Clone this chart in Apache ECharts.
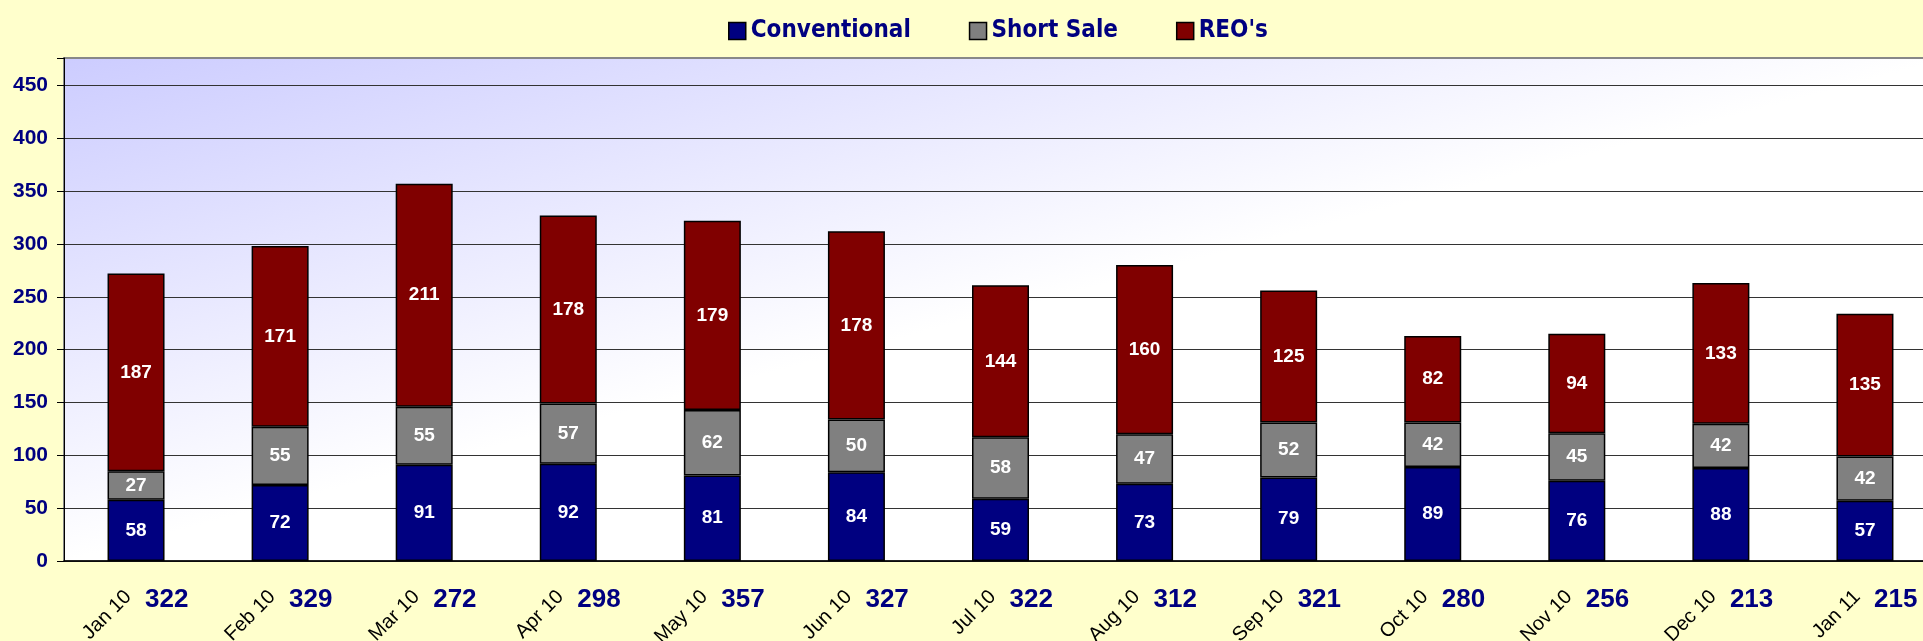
<!DOCTYPE html>
<html lang="en">
<head>
  <meta charset="UTF-8">
  <script src="https://cdn.jsdelivr.net/npm/echarts@6/dist/echarts.min.js"></script>
  <title>Sales by type</title>
</head>
<body>
  <div id="chart"></div>
</body>
<style>
  html,body{
    padding: 0;
    margin: 0;
    height: 100vh;
    width: 100vw;
    background: #FFFFCC;
  }
  #chart {
    height: 641px;
    width: 1923px;
  }
</style>
</html>
<script>
const months = ['Jan 10', 'Feb 10', 'Mar 10', 'Apr 10', 'May 10', 'Jun 10', 'Jul 10',
  'Aug 10', 'Sep 10', 'Oct 10', 'Nov 10', 'Dec 10', 'Jan 11']
const conventional = [58, 72, 91, 92, 81, 84, 59, 73, 79, 89, 76, 88, 57]
const shortSale = [27, 55, 55, 57, 62, 50, 58, 47, 52, 42, 45, 42, 42]
const reos = [187, 171, 211, 178, 179, 178, 144, 160, 125, 82, 94, 133, 135]
// numbers printed next to each month label
const totals = [322, 329, 272, 298, 357, 327, 322, 312, 321, 280, 256, 213, 215]

const navy = '#000080'
const font = '"Liberation Sans", Arial, sans-serif'

const barLabel = {
  show: true,
  color: '#fff',
  fontFamily: font,
  fontWeight: 'bold',
  fontSize: 19
}

const makeSeries = (name, data, color) => ({
  name: name,
  type: 'bar',
  stack: 'all',
  barWidth: 57,
  data: data,
  itemStyle: { color: color, borderColor: '#000', borderWidth: 1.5 },
  label: barLabel
})

let option = {
  backgroundColor: '#FFFFCC',
  animation: false,
  legend: {
    left: 723,
    top: 14,
    icon: 'rect',
    itemWidth: 17,
    itemHeight: 17,
    itemGap: 58,
    itemStyle: { borderColor: '#000', borderWidth: 1.5 },
    textStyle: {
      color: navy,
      fontFamily: '"DejaVu Sans Condensed", "DejaVu Sans", sans-serif',
      fontWeight: 'bold',
      fontSize: 24
    },
    data: [
      { name: 'Conventional', textStyle: { width: 164 } },
      { name: 'Short Sale', textStyle: { width: 117 } },
      { name: "REO's", textStyle: { width: 64 } }
    ]
  },
  grid: {
    left: 64,
    top: 58,
    right: -14,
    bottom: 80,
    outerBoundsMode: 'none',
    containLabel: false,
    show: true,
    borderColor: '#888',
    borderWidth: 2,
    backgroundColor: new echarts.graphic.LinearGradient(0, 0, 0.067, 0.933, [
      { offset: 0, color: '#CCCCFF' },
      { offset: 1, color: '#FFFFFF' }
    ])
  },
  xAxis: [
    {
      type: 'category',
      data: months,
      axisLine: { lineStyle: { color: '#000', width: 1.5 } },
      axisTick: { length: 6, lineStyle: { color: '#000' } },
      axisLabel: {
        interval: 0,
        rotate: 45,
        margin: 25,
        padding: [0, 11, 0, 0],
        color: '#000',
        fontFamily: font,
        fontSize: 20
      }
    },
    {
      type: 'category',
      data: months,
      position: 'bottom',
      axisLine: { show: false },
      axisTick: { show: false },
      axisLabel: {
        interval: 0,
        margin: 26,
        align: 'left',
        padding: [0, 0, 0, 9],
        color: navy,
        fontFamily: font,
        fontWeight: 'bold',
        fontSize: 26,
        formatter: (value, index) => String(totals[index])
      }
    }
  ],
  yAxis: {
    type: 'value',
    min: 0,
    max: 476,
    interval: 50,
    axisLine: { show: true, lineStyle: { color: '#000' } },
    axisTick: { show: true, length: 7, lineStyle: { color: '#000' } },
    axisLabel: {
      margin: 16,
      color: navy,
      fontFamily: font,
      fontWeight: 'bold',
      fontSize: 21,
      formatter: (v) => (v % 50 === 0 ? v : '')
    },
    splitLine: {
      showMaxLine: false,
      lineStyle: { color: '#333', width: 1 }
    }
  },
  series: [
    makeSeries('Conventional', conventional, navy),
    makeSeries('Short Sale', shortSale, '#808080'),
    makeSeries("REO's", reos, '#800000')
  ]
};

const myChart = echarts.init(document.getElementById('chart'));
myChart.setOption(option);
</script>
